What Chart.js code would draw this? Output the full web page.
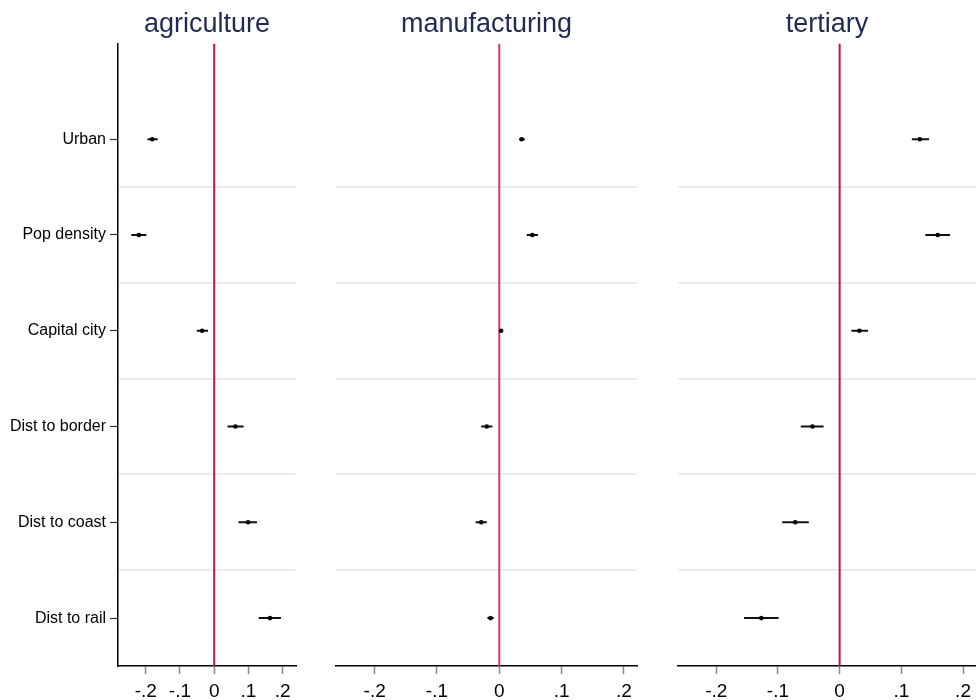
<!DOCTYPE html>
<html>
<head>
<meta charset="utf-8">
<script src="https://cdn.jsdelivr.net/npm/chart.js@4/dist/chart.umd.min.js"></script>
<style>
  html, body { margin: 0; padding: 0; background: #ffffff; overflow: hidden; }
  body { width: 976px; height: 700px; position: relative; }
  canvas { position: absolute; top: 0; }
</style>
</head>
<body>
<canvas id="agri" width="310" height="700" style="left:0px"></canvas>
<canvas id="manu" width="330" height="700" style="left:320px"></canvas>
<canvas id="tert" width="320" height="700" style="left:660px"></canvas>
<script>
// Covariates, listed top to bottom
const categories = ['Urban', 'Pop density', 'Capital city', 'Dist to border', 'Dist to coast', 'Dist to rail'];

// Point estimates and 95% confidence bounds, one set per sector
const agriCoef = [-0.181, -0.220, -0.035, 0.062, 0.099, 0.163];
const agriLo   = [-0.195, -0.242, -0.051, 0.039, 0.071, 0.130];
const agriHi   = [-0.165, -0.198, -0.018, 0.086, 0.125, 0.195];

const manuCoef = [0.036, 0.053, 0.003, -0.020, -0.029, -0.014];
const manuLo   = [0.032, 0.044, 0.001, -0.029, -0.038, -0.019];
const manuHi   = [0.041, 0.062, 0.005, -0.011, -0.020, -0.009];

const tertCoef = [0.130, 0.159, 0.032, -0.044, -0.072, -0.127];
const tertLo   = [0.117, 0.139, 0.019, -0.063, -0.093, -0.155];
const tertHi   = [0.145, 0.179, 0.046, -0.026, -0.050, -0.099];

// Horizontal axis ticks
const xTickValues = [-0.2, -0.1, 0, 0.1, 0.2];
const xTickLabels = ['-.2', '-.1', '0', '.1', '.2'];

const FONT = "'Liberation Sans', Arial, Helvetica, sans-serif";

function makePanel(id, title, coef, lo, hi, opts) {
  const rows = categories.map((_, i) => i + 1);

  const datasets = [];
  // reference line at zero
  datasets.push({
    type: 'line',
    data: [{ x: 0, y: 0 }, { x: 0, y: 6.5 }],
    borderColor: opts.zeroColor,
    borderWidth: 2,
    pointRadius: 0,
    order: 10
  });
  // confidence intervals
  rows.forEach((r, i) => {
    datasets.push({
      type: 'line',
      data: [{ x: lo[i], y: r }, { x: hi[i], y: r }],
      borderColor: '#111111',
      borderWidth: 2,
      pointRadius: 0,
      order: 5
    });
  });
  // point estimates
  datasets.push({
    type: 'scatter',
    data: rows.map((r, i) => ({ x: coef[i], y: r })),
    backgroundColor: '#000000',
    borderColor: '#000000',
    pointRadius: 2.3,
    borderWidth: 0,
    order: 1
  });

  new Chart(document.getElementById(id), {
    type: 'scatter',
    data: { datasets },
    options: {
      responsive: false,
      animation: false,
      devicePixelRatio: 1,
      layout: { padding: { left: opts.padLeft, right: opts.padRight, top: 0, bottom: 0 } },
      plugins: {
        legend: { display: false },
        tooltip: { enabled: false },
        title: {
          display: true,
          fullSize: false,
          text: title,
          color: '#1e2c52',
          font: { family: FONT, size: 27, weight: 'normal' },
          padding: { top: 8, bottom: 3 }
        }
      },
      scales: {
        x: {
          type: 'linear',
          min: opts.xMin,
          max: opts.xMax,
          afterBuildTicks: s => { s.ticks = xTickValues.map(v => ({ value: v })); },
          afterFit: s => { s.height = 34; },
          ticks: {
            color: '#000000',
            font: { family: FONT, size: 19 },
            padding: 6,
            maxRotation: 0,
            autoSkip: false,
            callback: v => xTickLabels[xTickValues.findIndex(t => Math.abs(t - v) < 1e-9)]
          },
          grid: {
            display: true,
            drawOnChartArea: false,
            drawTicks: true,
            tickLength: 8,
            tickColor: '#8a8a8a',
            tickWidth: 1.5
          },
          border: { display: true, color: '#000000', width: 1.5 }
        },
        y: {
          type: 'linear',
          position: 'left',
          reverse: true,
          min: 0,
          max: 6.5,
          display: opts.showY,
          afterBuildTicks: s => { s.ticks = rows.map(v => ({ value: v })); },
          afterFit: s => { s.width = opts.yWidth; },
          ticks: {
            color: '#000000',
            font: { family: FONT, size: 16 },
            padding: 4,
            autoSkip: false,
            callback: v => categories[Math.round(v) - 1]
          },
          grid: {
            display: true,
            drawOnChartArea: false,
            drawTicks: true,
            tickLength: 8,
            tickColor: '#333333',
            tickWidth: 1.2
          },
          border: { display: true, color: '#000000', width: 1.5 }
        },
        // separators between covariate rows
        ySep: {
          type: 'linear',
          position: 'left',
          reverse: true,
          min: 0,
          max: 6.5,
          afterBuildTicks: s => { s.ticks = [1.5, 2.5, 3.5, 4.5, 5.5].map(v => ({ value: v })); },
          afterFit: s => { s.width = 0; },
          ticks: { display: false },
          grid: {
            display: true,
            drawOnChartArea: true,
            drawTicks: false,
            color: '#e6eef2',
            lineWidth: 2
          },
          border: { display: false }
        }
      }
    }
  });
}

makePanel('agri', 'agriculture', agriCoef, agriLo, agriHi, {
  xMin: -0.281, xMax: 0.239, showY: true, yWidth: 118, padLeft: 0, padRight: 14, zeroColor: '#d3123c'
});
makePanel('manu', 'manufacturing', manuCoef, manuLo, manuHi, {
  xMin: -0.262, xMax: 0.221, showY: false, yWidth: 0, padLeft: 16, padRight: 13, zeroColor: '#d23a62'
});
makePanel('tert', 'tertiary', tertCoef, tertLo, tertHi, {
  xMin: -0.262, xMax: 0.221, showY: false, yWidth: 0, padLeft: 18, padRight: 1, zeroColor: '#cc1238'
});
</script>
</body>
</html>
